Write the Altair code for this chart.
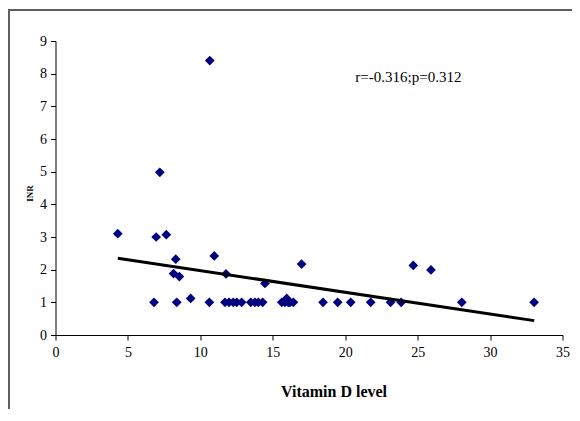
import altair as alt
import pandas as pd

vitamin_d = [4.3, 6.8, 6.95, 7.2, 7.65, 8.3, 8.15, 8.55, 8.37, 9.33, 10.65, 10.62, 10.96,
             11.77, 11.7, 11.98, 12.27, 12.51, 12.85, 13.48, 13.77, 14.0, 14.3, 14.46,
             15.62, 15.84, 15.96, 16.07, 16.19, 16.42, 16.99, 18.47, 19.48, 20.38, 21.76,
             23.13, 23.86, 24.7, 25.92, 28.05, 33.04]
inr = [3.1, 1.0, 3.0, 4.98, 3.07, 2.32, 1.88, 1.79, 1.0, 1.12, 8.4, 1.0, 2.42,
       1.87, 1.0, 1.0, 1.0, 1.0, 1.0, 1.0, 1.0, 1.0, 1.0, 1.58,
       1.0, 1.0, 1.12, 1.0, 1.0, 1.0, 2.17, 1.0, 1.0, 1.0, 1.0,
       1.0, 1.0, 2.13, 1.99, 1.0, 1.0]
trend_x = [4.3, 33.05]
trend_y = [2.35, 0.44]
annotation = "r=-0.316;p=0.312"
ann_x = [20.7]
ann_y = [7.9]
x_ticks = [0, 5, 10, 15, 20, 25, 30, 35]
y_ticks = [0, 1, 2, 3, 4, 5, 6, 7, 8, 9]

pts = pd.DataFrame({"vitd": vitamin_d, "inr": inr})
trend = pd.DataFrame({"vitd": trend_x, "inr": trend_y})
ann = pd.DataFrame({"vitd": ann_x, "inr": ann_y, "t": [annotation]})

FONT = "Liberation Serif"

xscale = alt.Scale(domain=[0, 35], nice=False, zero=False)
yscale = alt.Scale(domain=[0, 9], nice=False, zero=False)

xaxis = alt.Axis(values=x_ticks, tickCount=8, grid=False, title="Vitamin D level",
                 titleFont=FONT, titleFontSize=16, titleFontWeight="bold", titleColor="black",
                 titleX=278, titleY=61, titleBaseline="alphabetic", titleAnchor="start",
                 titleAlign="center",
                 labelFont=FONT, labelFontSize=14, labelColor="black", labelPadding=5,
                 labelOverlap=False,
                 domainColor="black", tickColor="black", tickSize=5, labelFlush=False)
yaxis = alt.Axis(values=y_ticks, tickCount=10, grid=False, title="INR",
                 titleFont=FONT, titleFontSize=9, titleFontWeight="bold", titleColor="black",
                 titleAngle=270, titleX=-26, titleY=152, titleAlign="center",
                 titleBaseline="middle", titleAnchor="start",
                 labelFont=FONT, labelFontSize=14, labelColor="black", labelPadding=4,
                 labelOverlap=False,
                 domainColor="black", tickColor="black", tickSize=5, labelFlush=False)

X = alt.X("vitd:Q", scale=xscale, axis=xaxis)
Y = alt.Y("inr:Q", scale=yscale, axis=yaxis)

points = alt.Chart(pts).mark_point(shape="diamond", filled=True, size=95,
                                   color="#000080", opacity=1).encode(x=X, y=Y)

line = alt.Chart(trend).mark_line(color="black", strokeWidth=3).encode(x=X, y=Y)

text = alt.Chart(ann).mark_text(font=FONT, fontSize=15, align="left",
                                baseline="middle", color="black").encode(
    x=X, y=Y, text="t:N")

frame_left = alt.Chart(pts).mark_rule(color="#5f5f5f", strokeWidth=1.5).encode(
    x=alt.value(-47), y=alt.value(-32), y2=alt.value(420))
frame_top = alt.Chart(pts).mark_rule(color="#5f5f5f", strokeWidth=1.5).encode(
    x=alt.value(-48), x2=alt.value(560), y=alt.value(-31))

chart = alt.layer(points, line, text, frame_left, frame_top).properties(
    width=507, height=294,
    autosize=alt.AutoSizeParams(type="none"),
    padding={"left": 47.5, "top": 33, "right": 9, "bottom": 74},
    background="white",
).configure_view(stroke=None)

chart.save("out.html", embed_options={"renderer": "svg", "actions": False})
